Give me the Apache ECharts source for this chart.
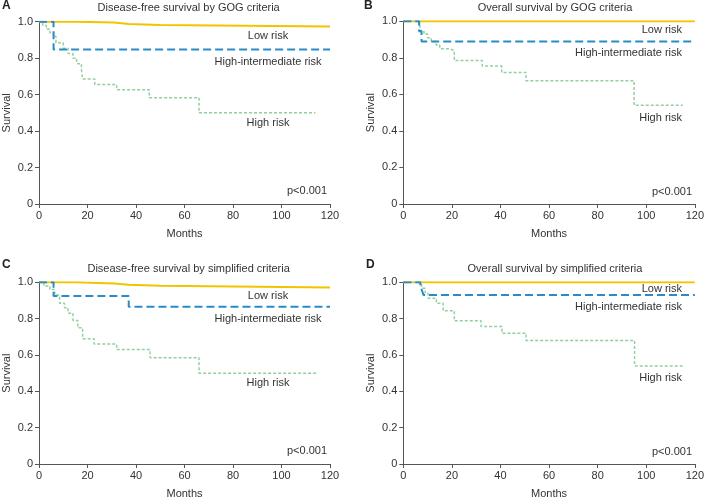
<!DOCTYPE html>
<html>
<head>
<meta charset="utf-8">
<script src="https://cdn.jsdelivr.net/npm/echarts@6/dist/echarts.min.js"></script>
<style>
html,body{margin:0;padding:0;background:#fff;}
#c{width:707px;height:500px;}
</style>
</head>
<body>
<div id="c"></div>
<script>
// ---- Data (Kaplan-Meier steps: time in months, survival) ----
var xTicks = [0, 20, 40, 60, 80, 100, 120];
var yTicks = [0, 0.2, 0.4, 0.6, 0.8, 1.0];

// Panel A: Disease-free survival by GOG criteria
var A_low_t  = [0, 15, 31, 37, 50, 120];
var A_low_s  = [1.0, 0.995, 0.987, 0.982, 0.973, 0.973];
var A_hi_t   = [0, 6, 120];
var A_hi_s   = [1.0, 0.847, 0.847];
var A_high_t = [0, 1.5, 3, 4.5, 6, 7, 10, 12, 14, 15.5, 17.5, 18, 23, 32, 45.5, 66, 114];
var A_high_s = [1.0, 0.98, 0.96, 0.94, 0.92, 0.885, 0.855, 0.825, 0.80, 0.77, 0.735, 0.685, 0.655, 0.627, 0.583, 0.50, 0.50];

// Panel B: Overall survival by GOG criteria
var B_low_t  = [0, 120];
var B_low_s  = [1.0, 1.0];
var B_hi_t   = [0, 6.5, 7.5, 120];
var B_hi_s   = [1.0, 0.945, 0.89, 0.89];
var B_high_t = [0, 6.8, 8.5, 10, 11.5, 13.5, 15, 19, 21, 32.5, 40.5, 50.5, 95, 115];
var B_high_s = [1.0, 0.95, 0.93, 0.91, 0.89, 0.87, 0.85, 0.84, 0.785, 0.755, 0.72, 0.675, 0.54, 0.54];

// Panel C: Disease-free survival by simplified criteria
var C_low_t  = [0, 15, 31, 37, 50, 120];
var C_low_s  = [1.0, 0.993, 0.986, 0.981, 0.972, 0.972];
var C_hi_t   = [0, 6, 37, 120];
var C_hi_s   = [1.0, 0.925, 0.865, 0.865];
var C_high_t = [0, 2, 4.5, 6.5, 8.5, 10.5, 12, 14, 16, 18, 22.7, 32, 45.8, 66, 115];
var C_high_s = [1.0, 0.98, 0.96, 0.93, 0.885, 0.86, 0.83, 0.79, 0.75, 0.69, 0.66, 0.63, 0.585, 0.50, 0.50];

// Panel D: Overall survival by simplified criteria
var D_low_t  = [0, 120];
var D_low_s  = [1.0, 1.0];
var D_hi_t   = [0, 7, 7.7, 8.3, 120];
var D_hi_s   = [1.0, 0.97, 0.955, 0.93, 0.93];
var D_high_t = [0, 7.5, 9, 10.2, 13.6, 16.4, 21, 32, 40.6, 50.5, 95.2, 115];
var D_high_s = [1.0, 0.967, 0.94, 0.912, 0.885, 0.843, 0.788, 0.757, 0.72, 0.68, 0.54, 0.54];

var panelTitles = [
  "Disease-free survival by GOG criteria",
  "Overall survival by GOG criteria",
  "Disease-free survival by simplified criteria",
  "Overall survival by simplified criteria"
];
var panelLetters = ["A", "B", "C", "D"];
var seriesNames = ["Low risk", "High-intermediate risk", "High risk"];
var pText = "p<0.001";

// ---- Build ----
function pairs(t, s) { return t.map(function (v, i) { return [v, s[i]]; }); }

var FONT = "'Liberation Sans', Arial, sans-serif";
var TXT = "#333";
var AX = "#555";
var colLow = "#f3c300", colHi = "#2a8cc6", colHigh = "#93cfa0";

var grids = [
  {left: 37.3, top: 21.7, width: 292.7, height: 182.3},
  {left: 403.3, top: 21.3, width: 293.3, height: 182.7},
  {left: 37.3, top: 282.3, width: 292.7, height: 182.7},
  {left: 403.3, top: 282.3, width: 293.3, height: 182.7}
];

var panelData = [
  [pairs(A_low_t, A_low_s), pairs(A_hi_t, A_hi_s), pairs(A_high_t, A_high_s)],
  [pairs(B_low_t, B_low_s), pairs(B_hi_t, B_hi_s), pairs(B_high_t, B_high_s)],
  [pairs(C_low_t, C_low_s), pairs(C_hi_t, C_hi_s), pairs(C_high_t, C_high_s)],
  [pairs(D_low_t, D_low_s), pairs(D_hi_t, D_hi_s), pairs(D_high_t, D_high_s)]
];

var xAxes = [], yAxes = [], series = [], titles = [], graphics = [];
grids.forEach(function (g, i) {
  xAxes.push({
    type: 'value', gridIndex: i, min: xTicks[0], max: xTicks[xTicks.length - 1], interval: 20,
    name: 'Months', nameLocation: 'middle', nameGap: 24,
    nameTextStyle: {fontFamily: FONT, fontSize: 11, color: TXT},
    axisLine: {show: true, lineStyle: {color: AX, width: 1}},
    axisTick: {show: true, length: 4, lineStyle: {color: AX}},
    axisLabel: {fontFamily: FONT, fontSize: 11, color: TXT, margin: 6},
    splitLine: {show: false}
  });
  yAxes.push({
    type: 'value', gridIndex: i, min: yTicks[0], max: yTicks[yTicks.length - 1], interval: 0.2,
    name: 'Survival', nameLocation: 'middle', nameGap: 27,
    nameTextStyle: {fontFamily: FONT, fontSize: 11, color: TXT},
    axisLine: {show: true, lineStyle: {color: AX, width: 1}},
    axisTick: {show: true, length: 4, lineStyle: {color: AX}},
    axisLabel: {fontFamily: FONT, fontSize: 11, color: TXT, margin: 6,
      formatter: function (v) { return v === 0 ? '0' : v.toFixed(1); }},
    splitLine: {show: false}
  });
  var d = panelData[i];
  series.push({
    name: seriesNames[0], type: 'line', step: 'end', xAxisIndex: i, yAxisIndex: i,
    data: d[0], symbol: 'none', silent: true, z: 2,
    lineStyle: {color: colLow, width: 2, type: 'solid'}
  });
  series.push({
    name: seriesNames[2], type: 'line', step: 'end', xAxisIndex: i, yAxisIndex: i,
    data: d[2], symbol: 'none', silent: true, z: 3,
    lineStyle: {color: colHigh, width: 1.5, type: [3, 2]}
  });
  series.push({
    name: seriesNames[1], type: 'line', step: 'end', xAxisIndex: i, yAxisIndex: i,
    data: d[1], symbol: 'none', silent: true, z: 4,
    lineStyle: {color: colHi, width: 2, type: [8, 4]}
  });
  titles.push({
    text: panelTitles[i], left: g.left + g.width / 2, top: g.top - 24, textAlign: 'center',
    textStyle: {fontFamily: FONT, fontSize: 11, fontWeight: 'normal', color: TXT}
  });
});

var letterPos = [[2, 0], [364, 0], [2, 259], [366, 259]];
letterPos.forEach(function (p, i) {
  graphics.push({type: 'text', left: p[0], top: p[1],
    style: {text: panelLetters[i], font: "bold 12px " + FONT, fill: '#222'}});
});

// annotation labels
function lbl(text, x, y, align) {
  graphics.push({type: 'text', x: x, y: y,
    style: {text: text, font: "11px " + FONT, fill: TXT, textAlign: align, textVerticalAlign: 'middle'}});
}
// A
lbl(seriesNames[0], 268, 36, 'center');
lbl(seriesNames[1], 268, 62, 'center');
lbl(seriesNames[2], 268, 123, 'center');
lbl(pText, 307, 191, 'center');
// B
lbl(seriesNames[0], 682, 30, 'right');
lbl(seriesNames[1], 682, 53, 'right');
lbl(seriesNames[2], 682, 118, 'right');
lbl(pText, 692, 192, 'right');
// C
lbl(seriesNames[0], 268, 296, 'center');
lbl(seriesNames[1], 268, 319, 'center');
lbl(seriesNames[2], 268, 383, 'center');
lbl(pText, 307, 451, 'center');
// D
lbl(seriesNames[0], 682, 289, 'right');
lbl(seriesNames[1], 682, 307, 'right');
lbl(seriesNames[2], 682, 378, 'right');
lbl(pText, 692, 452, 'right');

var chart = echarts.init(document.getElementById('c'), null, {renderer: 'canvas'});
chart.setOption({
  animation: false,
  backgroundColor: '#fff',
  title: titles,
  grid: grids,
  xAxis: xAxes,
  yAxis: yAxes,
  series: series,
  graphic: graphics
});
</script>
</body>
</html>
